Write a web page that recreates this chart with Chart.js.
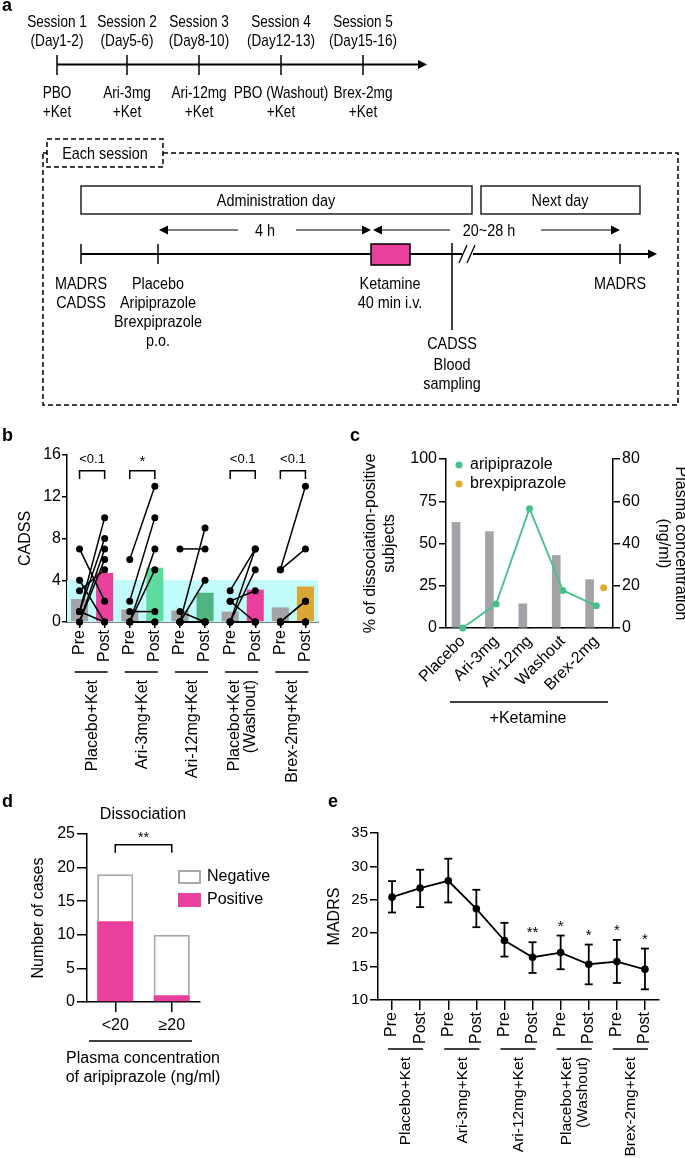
<!DOCTYPE html>
<html><head><meta charset="utf-8">
<script src="https://cdn.jsdelivr.net/npm/chart.js@4.4.1/dist/chart.umd.min.js"></script>
<style>
html,body{margin:0;padding:0;background:#fff;}
#page{position:relative;width:685px;height:1158px;overflow:hidden;background:#fff;}
canvas{position:absolute;}
#ov{position:absolute;left:0;top:0;pointer-events:none;}
</style></head>
<body><div id="page">
<canvas id="cb" width="340" height="360" style="left:0;top:430px"></canvas>
<canvas id="cc" width="345" height="300" style="left:340px;top:430px"></canvas>
<canvas id="cd" width="340" height="310" style="left:0;top:790px"></canvas>
<canvas id="ce" width="365" height="368" style="left:320px;top:790px"></canvas>
<svg id="ov" width="685" height="1158"></svg>
</div>
<script>
// ---------- DATA ----------
// panel a (schematic)
const sessions = ['Session 1','Session 2','Session 3','Session 4','Session 5'];
const sessionDays = ['(Day1-2)','(Day5-6)','(Day8-10)','(Day12-13)','(Day15-16)'];
const sessionDrugs = ['PBO','Ari-3mg','Ari-12mg','PBO (Washout)','Brex-2mg'];

// panel b
const bCats = ['Pre','Post','Pre','Post','Pre','Post','Pre','Post','Pre','Post'];
const bGroups = [['Placebo+Ket'],['Ari-3mg+Ket'],['Ari-12mg+Ket'],['Placebo+Ket','(Washout)'],['Brex-2mg+Ket']];
const bMeans = [2.2,4.7,1.2,5.2,1.1,2.8,1.0,3.1,1.4,3.4];
const bBarColors = ['#a4a4a8','#e8409c','#a4a4a8','#5edc9f','#a4a4a8','#50b482','#a4a4a8','#e8409c','#a4a4a8','#daa637'];
const placeboPre = [7,4,3,1,1,0,0,1],  placeboPost = [2,0,5,10,8,7,6,0];
const ari3Pre    = [6,2,1,0,0,0,0],    ari3Post    = [13,10,1,7,5,0,0];
const ari12Pre   = [7,0,0,1,0,0,0],    ari12Post   = [7,9,4,0,0,0,0];
const washPre    = [3,0,2,2,0,0,0],    washPost    = [7,7,3,0,5,0,0];
const brexPre    = [5,5,0,0,0,0,0],    brexPost    = [13,7,2,2,0,0,0];
const bSig = ['<0.1','*','','<0.1','<0.1'];
const bThreshold = 4;

// panel c
const cCats = ['Placebo','Ari-3mg','Ari-12mg','Washout','Brex-2mg'];
const cPositivePct = [62.5,57.1,14.3,42.9,28.6];
const cAripiprazole = [0,11.4,56.5,17.8,10.5];
const cBrexpiprazole = [null,null,null,null,19];

// panel d
const dCats = ['<20','\u226520'];
const dPositive = [12,1];
const dNegative = [7,9];

// panel e
const eCats = ['Pre','Post','Pre','Post','Pre','Post','Pre','Post','Pre','Post'];
const eGroups = [['Placebo+Ket'],['Ari-3mg+Ket'],['Ari-12mg+Ket'],['Placebo+Ket','(Washout)'],['Brex-2mg+Ket']];
const eMeans = [25.4,26.75,27.85,23.65,18.9,16.4,17.1,15.35,15.75,14.6];
const eUpper = [27.8,29.5,31.15,26.5,21.55,18.65,19.65,18.3,19.0,17.7];
const eLower = [23.1,23.9,24.6,20.9,16.5,14.05,14.6,12.35,12.55,11.6];
const eSig = ['','','','','','**','*','*','*','*'];

// ---------- STYLE ----------
const FONT = '"Liberation Sans", Arial, sans-serif';
const PINK = '#e8409c', GREEN = '#46c08a', GOLD = '#e0ab2e', GRAY = '#a4a4a8';
Chart.defaults.font.family = FONT;
Chart.defaults.font.size = 16;
Chart.defaults.color = '#000';

// ---------- PANEL A (SVG schematic) + panel letters ----------
(function(){
  const svg = document.getElementById('ov');
  const esc = s => s.replace(/&/g,'&amp;').replace(/</g,'&lt;').replace(/>/g,'&gt;');
  let h = '';
  const T = (x,y,s,opt={}) => {
    const sx = opt.sx ?? 0.9, fs = opt.fs ?? 16, anchor = opt.anchor ?? 'middle', w = opt.bold ? 'bold' : 'normal';
    h += `<g transform="translate(${x},${y}) scale(${sx},1)"><text x="0" y="0" text-anchor="${anchor}" font-family='${FONT}' font-size="${fs}" font-weight="${w}" fill="#000">${esc(s)}</text></g>`;
  };
  const L = (x1,y1,x2,y2,w=1.5) => { h += `<line x1="${x1}" y1="${y1}" x2="${x2}" y2="${y2}" stroke="#000" stroke-width="${w}"/>`; };
  const tri = (tip,y,dir) => { const b = tip - dir*9; h += `<polygon points="${tip},${y} ${b},${y-4.5} ${b},${y+4.5}" fill="#000"/>`; };
  // letters
  T(2,11,'a',{bold:true,fs:18,sx:1,anchor:'start'});
  T(2,441,'b',{bold:true,fs:18,sx:1,anchor:'start'});
  T(350,441,'c',{bold:true,fs:18,sx:1,anchor:'start'});
  T(2,807,'d',{bold:true,fs:18,sx:1,anchor:'start'});
  T(328,807,'e',{bold:true,fs:18,sx:1,anchor:'start'});
  // top timeline
  const sx = [57,127,199,281,363];
  L(57,64.5,418,64.5,2); tri(427,64.5,1);
  sessions.forEach((s,i)=>{
    L(sx[i],55,sx[i],75,1.5);
    T(sx[i],27,s,{sx:0.85}); T(sx[i],46,sessionDays[i],{sx:0.85});
    T(sx[i],98,sessionDrugs[i],{sx:0.85}); T(sx[i],117,'+Ket',{sx:0.85});
  });
  // each-session box
  h += `<rect x="43" y="153" width="635" height="252" fill="none" stroke="#000" stroke-width="1.5" stroke-dasharray="5,3"/>`;
  h += `<rect x="47" y="139" width="116" height="28" fill="#fff" stroke="#000" stroke-width="1.5" stroke-dasharray="5,3"/>`;
  T(105,159,'Each session');
  h += `<rect x="81" y="186" width="391" height="28" fill="none" stroke="#000" stroke-width="1.3"/>`;
  T(276,206,'Administration day');
  h += `<rect x="481" y="186" width="159" height="28" fill="none" stroke="#000" stroke-width="1.3"/>`;
  T(560,206,'Next day');
  // interval arrows
  tri(159,230,-1); L(167,230,238,230,1.2); T(265,236,'4 h'); L(296,230,362,230,1.2); tri(371,230,1);
  tri(373,230,-1); L(381,230,450,230,1.2); T(489,236,'20~28 h'); L(541,230,611,230,1.2); tri(620,230,1);
  // main session timeline
  L(81,254,648,254,2); tri(657,254,1);
  [81,158,620].forEach(x=>L(x,244,x,264,1.5));
  h += `<rect x="371" y="244" width="39" height="21" fill="${PINK}" stroke="#000" stroke-width="1.5"/>`;
  L(452,243,452,330,1.5);
  h += `<rect x="462" y="250" width="11" height="8" fill="#fff"/>`;
  L(459,263,467,245,1.3); L(467,263,475,245,1.3);
  T(81,289,'MADRS'); T(81,308,'CADSS');
  T(158,289,'Placebo'); T(158,308,'Aripiprazole'); T(158,327,'Brexpiprazole'); T(158,346,'p.o.');
  T(390,289,'Ketamine'); T(390,308,'40 min i.v.');
  T(620,289,'MADRS');
  T(452,349,'CADSS'); T(452,370,'Blood'); T(452,389,'sampling');
  svg.innerHTML = h;
})();

// ---------- helpers ----------
function rotText(ctx, lines, x, y, angle, align, lh){
  ctx.save(); ctx.translate(x,y); ctx.rotate(angle);
  ctx.textAlign = align; ctx.textBaseline = 'middle';
  lines.forEach((s,i)=>ctx.fillText(s, 0, (i-(lines.length-1)/2)*lh));
  ctx.restore();
}
function line(ctx,x1,y1,x2,y2,w=1.5){ctx.beginPath();ctx.moveTo(x1,y1);ctx.lineTo(x2,y2);ctx.lineWidth=w;ctx.strokeStyle='#000';ctx.stroke();}
function bracket(ctx,x1,x2,yTop,yLeg,w=1.5){ctx.beginPath();ctx.moveTo(x1,yLeg);ctx.lineTo(x1,yTop);ctx.lineTo(x2,yTop);ctx.lineTo(x2,yLeg);ctx.lineWidth=w;ctx.strokeStyle='#000';ctx.stroke();}
const axisCommon = (tl) => ({grid:{drawOnChartArea:false,color:'#000',lineWidth:1.5,tickLength:tl}, border:{color:'#000',width:1.5}});
const baseOpts = {responsive:false, animation:false, devicePixelRatio:1, events:[], plugins:{legend:{display:false},tooltip:{enabled:false}}};

// ---------- PANEL B ----------
(function(){
  const pairs = [[placeboPre,placeboPost],[ari3Pre,ari3Post],[ari12Pre,ari12Post],[washPre,washPost],[brexPre,brexPost]];
  const sets = [];
  pairs.forEach(([pre,post],g)=>pre.forEach((v,k)=>{
    const d = bCats.map(()=>null); d[2*g]=v; d[2*g+1]=post[k];
    sets.push({type:'line',data:d,borderColor:'#000',borderWidth:1.5,pointRadius:3.5,pointBackgroundColor:'#000',pointBorderWidth:0,clip:false,order:0,spanGaps:false,fill:false});
  }));
  sets.push({type:'bar',data:bMeans,backgroundColor:bBarColors,barPercentage:0.68,categoryPercentage:1,order:1});
  const plug = {id:'bx',
    beforeDatasetsDraw(ch){const {ctx,chartArea:a,scales:{y}}=ch; ctx.fillStyle='#c2fbfb'; const t=y.getPixelForValue(bThreshold), b=y.getPixelForValue(0); ctx.fillRect(a.left,t,a.right-a.left,b-t);},
    afterDraw(ch){const {ctx,scales:{x,y}}=ch;
      ctx.fillStyle='#000';
      bSig.forEach((s,g)=>{ if(!s) return; const x1=x.getPixelForValue(2*g), x2=x.getPixelForValue(2*g+1);
        bracket(ctx,x1,x2,y.getPixelForValue(14.5),y.getPixelForValue(13.7));
        ctx.font = (s==='*'?'15px ':'13px ')+FONT; ctx.textAlign='center'; ctx.textBaseline='middle';
        ctx.fillText(s,(x1+x2)/2,y.getPixelForValue(s==='*'?15.3:15.6));
      });
      ctx.font='16px '+FONT;
      bGroups.forEach((g,i)=>{const x1=x.getPixelForValue(2*i), x2=x.getPixelForValue(2*i+1);
        line(ctx,x1-5,242,x2+3,242,1.5);
        rotText(ctx,g,(x1+x2)/2,250,-Math.PI/2,'right',16);
      });
      rotText(ctx,['CADSS'],26,(y.getPixelForValue(0)+y.getPixelForValue(16))/2,-Math.PI/2,'center',16);
    }};
  new Chart(document.getElementById('cb'),{type:'bar',data:{labels:bCats,datasets:sets},
    options:{...baseOpts, layout:{padding:{top:25,right:22,left:0,bottom:0}},
      scales:{
        x:{offset:true,grid:{drawOnChartArea:false,offset:false,color:'#000',lineWidth:1.5,tickLength:6},border:{color:'#000',width:1.5},
           ticks:{font:{size:16},minRotation:90,maxRotation:90,autoSkip:false,padding:2},afterFit(s){s.height=168;}},
        y:{min:0,max:16,...axisCommon(5),ticks:{stepSize:4,font:{size:16},padding:1},afterFit(s){s.width=67;}}
      }},plugins:[plug]});
})();

// ---------- PANEL C ----------
(function(){
  const barShift = -0.2, brexShift = 0.22;
  const sets = [
    {type:'line',label:'aripiprazole',xAxisID:'x2',yAxisID:'y2',data:cAripiprazole.map((v,i)=>({x:i,y:v})),borderColor:GREEN,borderWidth:1.8,pointRadius:3.5,pointBackgroundColor:GREEN,pointBorderWidth:0,clip:false,order:0},
    {type:'line',label:'brexpiprazole',xAxisID:'x2',yAxisID:'y2',data:cBrexpiprazole.map((v,i)=>({x:i+brexShift,y:v})).filter(p=>p.y!==null),borderColor:GOLD,showLine:false,pointRadius:3.5,pointBackgroundColor:GOLD,pointBorderWidth:0,clip:false,order:0},
    {type:'bar',label:'positive',xAxisID:'x2',yAxisID:'y',data:cPositivePct.map((v,i)=>({x:i+barShift,y:v})),backgroundColor:GRAY,barThickness:8,order:1}
  ];
  const plug = {id:'cx', afterDraw(ch){const {ctx,chartArea:a}=ch;
    ctx.fillStyle='#000'; ctx.font='16px '+FONT;
    // legend
    [[sets[0].label,GREEN,35],[sets[1].label,GOLD,54]].forEach(([t,c,yy])=>{
      ctx.beginPath(); ctx.arc(a.left+13,yy,3.5,0,Math.PI*2); ctx.fillStyle=c; ctx.fill();
      ctx.fillStyle='#000'; ctx.textAlign='left'; ctx.textBaseline='middle'; ctx.fillText(t,a.left+24,yy);
    });
    const mid=(a.top+a.bottom)/2;
    rotText(ctx,['% of dissociation-positive','subjects'],40,mid,-Math.PI/2,'center',19);
    rotText(ctx,['Plasma concentration','(ng/ml)'],332,mid,Math.PI/2,'center',17);
    line(ctx,110,272,268,272,1.5);
    ctx.textAlign='center'; ctx.textBaseline='alphabetic'; ctx.fillText('+Ketamine',188,293);
  }};
  new Chart(document.getElementById('cc'),{type:'bar',data:{labels:cCats,datasets:sets},
    options:{...baseOpts, layout:{padding:{top:29,right:0,left:0,bottom:0}},
      scales:{
        x:{type:'category',offset:true,grid:{drawOnChartArea:false,offset:false,color:'#000',lineWidth:1.5,tickLength:0},border:{color:'#000',width:1.5},
           ticks:{font:{size:16},minRotation:45,maxRotation:45,autoSkip:false,padding:4},afterFit(s){s.height=102;}},
        x2:{type:'linear',min:-0.5,max:4.5,offset:false,display:false},
        y:{position:'left',min:0,max:100,...axisCommon(7),ticks:{stepSize:25,font:{size:16},padding:2},afterFit(s){s.width=106;}},
        y2:{position:'right',min:0,max:80,...axisCommon(7),ticks:{stepSize:20,font:{size:16},padding:2},afterFit(s){s.width=72;}}
      }},plugins:[plug]});
})();

// ---------- PANEL D ----------
(function(){
  const sets = [
    {label:'Positive',data:dPositive,backgroundColor:PINK,borderWidth:0,barPercentage:0.64,categoryPercentage:1},
    {label:'Negative',data:dNegative,backgroundColor:'#fff',borderColor:'#a9a9a9',borderWidth:2,borderSkipped:'bottom',barPercentage:0.64,categoryPercentage:1}
  ];
  const plug = {id:'dx', afterDraw(ch){const {ctx,chartArea:a,scales:{x,y}}=ch;
    ctx.fillStyle='#000'; ctx.font='16px '+FONT; ctx.textAlign='center'; ctx.textBaseline='alphabetic';
    ctx.fillText('Dissociation',143,29);
    const x1=x.getPixelForValue(0), x2=x.getPixelForValue(1);
    bracket(ctx,x1,x2,y.getPixelForValue(23.4),y.getPixelForValue(22.2));
    ctx.font='14px '+FONT; ctx.textBaseline='middle'; ctx.fillText('**',(x1+x2)/2,y.getPixelForValue(24.4));
    // legend
    ctx.font='16px '+FONT; ctx.textAlign='left';
    ctx.fillStyle='#fff'; ctx.fillRect(179,81,21,12); ctx.strokeStyle='#a9a9a9'; ctx.lineWidth=2; ctx.strokeRect(179,81,21,12);
    ctx.fillStyle='#000'; ctx.fillText(sets[1].label,207,87);
    ctx.fillStyle=PINK; ctx.fillRect(178,103,23,14);
    ctx.fillStyle='#000'; ctx.fillText(sets[0].label,207,110);
    // below axis
    line(ctx,89,251,192,251,1.5);
    ctx.textAlign='center'; ctx.textBaseline='alphabetic';
    ctx.fillText('Plasma concentration',143,273); ctx.fillText('of aripiprazole (ng/ml)',143,292);
    rotText(ctx,['Number of cases'],39,(a.top+a.bottom)/2,-Math.PI/2,'center',16);
  }};
  new Chart(document.getElementById('cd'),{type:'bar',data:{labels:dCats,datasets:sets},
    options:{...baseOpts, layout:{padding:{top:44,right:140,left:0,bottom:0}},
      scales:{
        x:{stacked:true,offset:true,grid:{drawOnChartArea:false,offset:false,color:'#000',lineWidth:1.5,tickLength:10},border:{color:'#000',width:1.5},
           ticks:{font:{size:16},maxRotation:0,minRotation:0,padding:4},afterFit(s){s.height=98;}},
        y:{stacked:true,min:0,max:25,...axisCommon(10),ticks:{stepSize:5,font:{size:16},padding:2},afterFit(s){s.width=87;}}
      }},plugins:[plug]});
})();

// ---------- PANEL E ----------
(function(){
  const plug = {id:'ex',
    beforeDatasetsDraw(ch){const {ctx,scales:{x,y}}=ch;
      eMeans.forEach((m,i)=>{const px=x.getPixelForValue(i), t=y.getPixelForValue(eUpper[i]), b=y.getPixelForValue(eLower[i]);
        line(ctx,px,t,px,b,1.8); line(ctx,px-4,t,px+4,t,1.8); line(ctx,px-4,b,px+4,b,1.8);});
    },
    afterDraw(ch){const {ctx,chartArea:a,scales:{x,y}}=ch;
      ctx.fillStyle='#000'; ctx.font='15px '+FONT; ctx.textAlign='center'; ctx.textBaseline='alphabetic';
      eSig.forEach((s,i)=>{ if(s) ctx.fillText(s,x.getPixelForValue(i),y.getPixelForValue(eUpper[i])-5); });
      ctx.font='15.5px '+FONT;
      eGroups.forEach((g,i)=>{const x1=x.getPixelForValue(2*i), x2=x.getPixelForValue(2*i+1);
        line(ctx,x1-4,259,x2+3,259,1.5);
        rotText(ctx,g,(x1+x2)/2,267,-Math.PI/2,'right',16);
      });
      ctx.font='16px '+FONT;
      rotText(ctx,['MADRS'],15,(a.top+a.bottom)/2,-Math.PI/2,'center',16);
    }};
  new Chart(document.getElementById('ce'),{type:'line',data:{labels:eCats,datasets:[
      {data:eMeans,borderColor:'#000',borderWidth:1.8,pointRadius:3.8,pointBackgroundColor:'#000',pointBorderWidth:0,clip:false,fill:false}]},
    options:{...baseOpts, layout:{padding:{top:43,right:26,left:0,bottom:0}},
      scales:{
        x:{offset:true,grid:{drawOnChartArea:false,offset:false,color:'#000',lineWidth:1.5,tickLength:10},border:{color:'#000',width:1.5},
           ticks:{font:{size:16},minRotation:90,maxRotation:90,autoSkip:false,padding:2},afterFit(s){s.height=158;}},
        y:{min:10,max:35,...axisCommon(8),ticks:{stepSize:5,font:{size:15},padding:2},afterFit(s){s.width=58;}}
      }},plugins:[plug]});
})();
</script>
</body></html>
